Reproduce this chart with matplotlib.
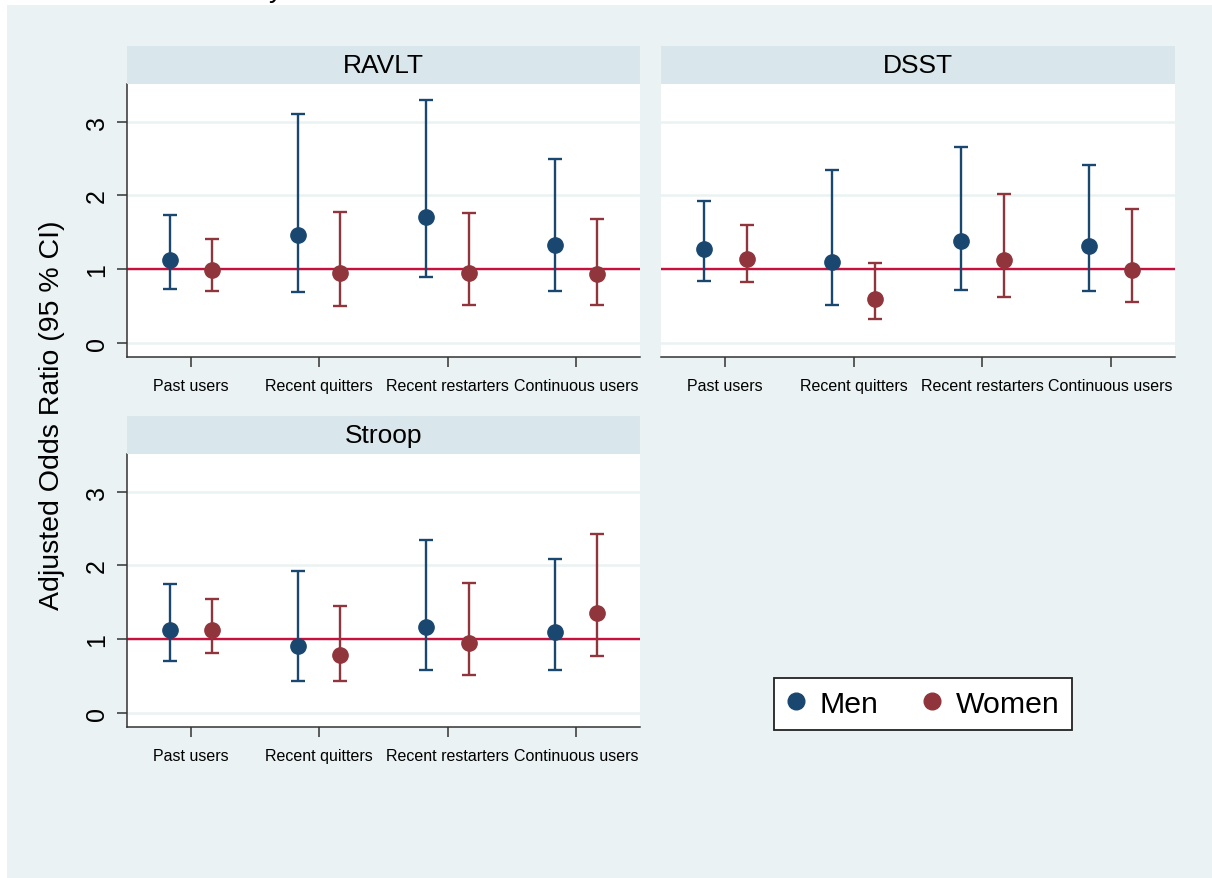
import numpy as np
import matplotlib
matplotlib.use("Agg")
import matplotlib.pyplot as plt
from matplotlib.patches import Rectangle
from matplotlib.lines import Line2D

plt.rcParams['font.family'] = ['Liberation Sans', 'DejaVu Sans']

categories = ["Past users", "Recent quitters", "Recent restarters", "Continuous users"]

# odds ratios with 95% CI, per outcome and sex
ravlt_men_or = [1.13, 1.46, 1.71, 1.33]
ravlt_men_lo = [0.73, 0.69, 0.90, 0.71]
ravlt_men_hi = [1.74, 3.11, 3.29, 2.49]
ravlt_women_or = [0.99, 0.95, 0.95, 0.94]
ravlt_women_lo = [0.71, 0.50, 0.51, 0.52]
ravlt_women_hi = [1.41, 1.78, 1.76, 1.68]

dsst_men_or = [1.27, 1.10, 1.38, 1.31]
dsst_men_lo = [0.84, 0.52, 0.72, 0.71]
dsst_men_hi = [1.92, 2.34, 2.66, 2.41]
dsst_women_or = [1.14, 0.60, 1.12, 0.99]
dsst_women_lo = [0.82, 0.33, 0.62, 0.56]
dsst_women_hi = [1.60, 1.09, 2.02, 1.81]

stroop_men_or = [1.12, 0.91, 1.17, 1.10]
stroop_men_lo = [0.71, 0.43, 0.58, 0.58]
stroop_men_hi = [1.75, 1.93, 2.34, 2.09]
stroop_women_or = [1.12, 0.79, 0.95, 1.36]
stroop_women_lo = [0.81, 0.43, 0.51, 0.77]
stroop_women_hi = [1.55, 1.45, 1.76, 2.42]

MEN_COLOR = "#1a476f"
WOMEN_COLOR = "#90353b"
BG = "#eaf2f3"
STRIP = "#d9e6eb"
REF = "#c8103e"

W, H = 1212, 879
fig = plt.figure(figsize=(W / 100, H / 100), dpi=100, facecolor="white")
fig.patches.append(Rectangle((7 / W, 0), 1, 1 - 6 / H, transform=fig.transFigure,
                             facecolor=BG, edgecolor="none", zorder=-5))

# clipped heading above the graph region
fig.text(0.228, 1 + 2.5 / H, "y", fontsize=20, ha="center", va="baseline")


def px_rect(x0, y0, x1, y1):
    return [x0 / W, 1 - y1 / H, (x1 - x0) / W, (y1 - y0) / H]


def panel(x0, x1, y_strip, y_top, y_bot, title, men, women, left_axis):
    ax = fig.add_axes(px_rect(x0, y_top, x1, y_bot))
    ax.set_facecolor("white")
    strip = fig.add_axes(px_rect(x0, y_strip, x1, y_top))
    strip.set_facecolor(STRIP)
    strip.set_xticks([])
    strip.set_yticks([])
    for s in strip.spines.values():
        s.set_visible(False)
    strip.text(0.5, 0.5, title, fontsize=19, ha="center", va="center",
               transform=strip.transAxes)

    x = np.arange(1, len(categories) + 1)
    for (est, lo, hi), col, off in ((men, MEN_COLOR, -0.166), (women, WOMEN_COLOR, 0.166)):
        est = np.array(est)
        yerr = [est - np.array(lo), np.array(hi) - est]
        ax.errorbar(x + off, est, yerr=yerr, fmt="o", color=col, ms=11, lw=1.7,
                    capsize=4.8, capthick=1.7, zorder=3)

    ax.axhline(1, color=REF, lw=1.7, zorder=2)
    for g in range(4):
        ax.axhline(g, color=BG, lw=1.8, zorder=1)

    ax.set_xlim(0.5, 4.5)
    ax.set_ylim(-0.19, 3.51)
    ax.set_xticks(x)
    ax.set_xticklabels(categories, fontsize=11.5)
    ax.set_yticks([0, 1, 2, 3])
    ax.tick_params(axis="x", direction="out", length=7, width=1.1, color="#333333", pad=8)
    ax.tick_params(axis="y", direction="out", length=7, width=1.1, color="#333333", pad=6,
                   labelsize=18, labelrotation=90)
    for lab in ax.get_yticklabels():
        lab.set_va("center")
    ax.spines["top"].set_visible(False)
    ax.spines["right"].set_visible(False)
    ax.spines["bottom"].set_color("#333333")
    ax.spines["bottom"].set_linewidth(1.1)
    if left_axis:
        ax.spines["left"].set_color("#333333")
        ax.spines["left"].set_linewidth(1.1)
    else:
        ax.spines["left"].set_visible(False)
        ax.tick_params(axis="y", left=False, labelleft=False)
    return ax


panel(126.7, 640, 47, 85, 358, "RAVLT",
      (ravlt_men_or, ravlt_men_lo, ravlt_men_hi),
      (ravlt_women_or, ravlt_women_lo, ravlt_women_hi), True)
panel(661, 1175, 47, 85, 358, "DSST",
      (dsst_men_or, dsst_men_lo, dsst_men_hi),
      (dsst_women_or, dsst_women_lo, dsst_women_hi), False)
panel(126.7, 640, 417, 455, 728, "Stroop",
      (stroop_men_or, stroop_men_lo, stroop_men_hi),
      (stroop_women_or, stroop_women_lo, stroop_women_hi), True)

fig.text(52 / W, 1 - 415 / H, "Adjusted Odds Ratio (95 % CI)", rotation=90,
         fontsize=20.5, ha="center", va="center")

handles = [Line2D([], [], ls="none", marker="o", ms=12, color=MEN_COLOR),
           Line2D([], [], ls="none", marker="o", ms=12, color=WOMEN_COLOR)]
leg = fig.legend(handles, ["Men", "Women"], loc="center", ncol=2,
                 bbox_to_anchor=(923 / W, 1 - 705 / H), fontsize=21.8,
                 frameon=True, fancybox=False, edgecolor="#222222",
                 facecolor="white", framealpha=1,
                 handletextpad=0.5, columnspacing=1.45, handlelength=0.6,
                 borderpad=0.4)
leg.get_frame().set_linewidth(1.3)

fig.savefig("out.png", dpi=100, facecolor=fig.get_facecolor())
